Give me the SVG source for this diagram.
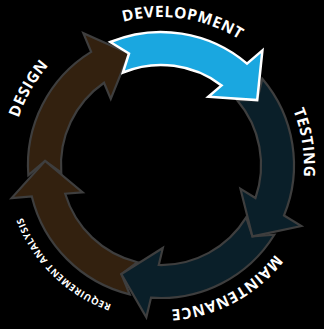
<svg xmlns="http://www.w3.org/2000/svg" xmlns:xlink="http://www.w3.org/1999/xlink" width="324" height="329" viewBox="0 0 324 329">
<style>
.brown{fill:#33210f;stroke:#3e3e3e;stroke-width:2.2;stroke-linejoin:miter}
.teal{fill:#0a1f29;stroke:#3e3e3e;stroke-width:2.2;stroke-linejoin:miter}
.blue{fill:#1aa7e0;stroke:#ffffff;stroke-width:2.5;stroke-linejoin:miter}
.lbl{font-family:"Open Sans","DejaVu Sans",sans-serif;font-weight:700;fill:#ffffff;text-anchor:middle}
.big{font-size:15.5px;letter-spacing:0.6px}
.small{font-size:9.5px;letter-spacing:0.6px}
</style>
<defs>
<path id="arrow" d="M110.3,42 A133,133 0 0 1 247,63.6 L262.4,50.4 L257.2,100.1 L208.3,96.8 L221.6,85.4 A100,100 0 0 0 122.9,72.5 L129,53.5 Z"/>
<path id="ring148" d="M145.53,312.19 A148,148 0 1 1 176.47,17.81 A148,148 0 1 1 145.53,312.19"/>
<path id="ring143" d="M146.05,307.22 A143,143 0 1 1 175.95,22.78 A143,143 0 1 1 146.05,307.22"/>
<path id="ring145" d="M145.84,309.21 A145,145 0 1 1 176.16,20.79 A145,145 0 1 1 145.84,309.21"/>
<path id="ring150" d="M145.32,314.18 A150,150 0 1 1 176.68,15.82 A150,150 0 1 1 145.32,314.18"/>
</defs>
<rect width="324" height="329" fill="#000000"/>
<g id="connectors"></g>
<g id="design"><use xlink:href="#arrow" class="brown" transform="rotate(288 161 165)"/></g>
<g id="requirement-analysis"><use xlink:href="#arrow" class="brown" transform="rotate(216 161 165)"/></g>
<g id="maintenance"><use xlink:href="#arrow" class="teal" transform="rotate(144 161 165)"/></g>
<g id="testing"><use xlink:href="#arrow" class="teal" transform="rotate(72 161 165)"/></g>
<g id="development"><use xlink:href="#arrow" class="blue"/></g>
<g id="labels">
<text class="lbl big"><textPath xlink:href="#ring148" startOffset="50.75%">DEVELOPMENT</textPath></text>
<text class="lbl big"><textPath xlink:href="#ring143" startOffset="70.9%">TESTING</textPath></text>
<text class="lbl big"><textPath xlink:href="#ring145" startOffset="90.56%">MAINTENANCE</textPath></text>
<text class="lbl small"><textPath xlink:href="#ring148" startOffset="10.69%">REQUIREMENT ANALYSIS</textPath></text>
<text class="lbl big"><textPath xlink:href="#ring150" startOffset="31.67%">DESIGN</textPath></text>
</g>
</svg>
